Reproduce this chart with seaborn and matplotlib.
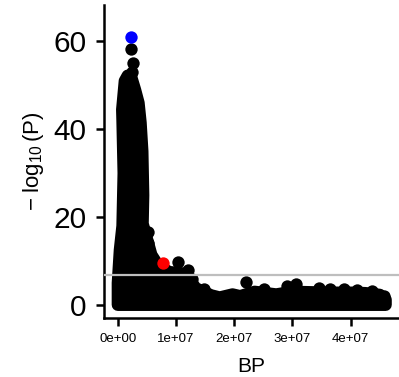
import numpy as np
import matplotlib
matplotlib.use("Agg")
import matplotlib.pyplot as plt
import seaborn as sns

# --- Daten ---
# Umriss der dichten Punktwolke (Punktzentren), von links unten nach rechts unten
cloud_bp = [0.0, 0.0, 0.35e6, 0.8e6, 1.0e6, 0.8e6, 0.75e6, 1.2e6, 1.7e6, 2.2e6,
            2.95e6, 3.55e6, 3.9e6, 4.2e6, 4.35e6, 4.25e6, 5.0e6, 5.75e6, 6.9e6,
            8.8e6, 1.1e7, 1.24e7, 1.34e7, 1.6e7, 1.75e7, 1.97e7, 2.1e7, 2.35e7,
            2.72e7, 3.0e7, 3.32e7, 3.56e7, 3.77e7, 4.0e7, 4.25e7, 4.5e7, 4.6e7, 4.6e7]
cloud_p = [0.05, 5.0, 12.5, 18.0, 30.0, 42.0, 44.5, 51.0, 52.2, 52.3,
           49.0, 46.0, 41.5, 35.0, 25.0, 18.5, 15.0, 11.4, 9.0,
           7.5, 7.2, 5.5, 3.8, 2.2, 1.7, 2.4, 2.0, 3.0,
           2.4, 3.0, 2.9, 2.8, 2.8, 2.8, 2.7, 2.3, 1.2, 0.05]

# einzelne SNPs am Rand der Wolke
snp_bp = [2.19e6, 2.58e6, 2.41e6, 5.25e6, 5.25e6, 1.03e7, 1.2e7, 1.27e7, 1.48e7,
          2.2e7, 2.51e7, 2.91e7, 3.06e7, 3.45e7, 3.65e7, 3.88e7, 4.11e7, 4.37e7, 4.57e7]
snp_p = [58.2, 55.1, 53.1, 16.6, 14.1, 9.9, 8.0, 5.9, 3.7,
         5.2, 3.7, 4.3, 4.7, 3.95, 3.7, 3.55, 3.4, 3.2, 2.05]

lead_bp = [2.19e6]   # blau
lead_p = [61.1]
second_bp = [7.78e6]  # rot
second_p = [9.6]

threshold = 6.85

x_ticks = [0, 1e7, 2e7, 3e7, 4e7]
x_labels = ["0e+00", "1e+07", "2e+07", "3e+07", "4e+07"]
y_ticks = [0, 20, 40, 60]

# --- Stil ---
sns.set_style("ticks")
plt.rcParams["font.family"] = ["Liberation Sans", "DejaVu Sans"]
plt.rcParams["mathtext.fontset"] = "custom"
plt.rcParams["mathtext.rm"] = "Liberation Sans"
plt.rcParams["mathtext.it"] = "Liberation Sans:italic"
plt.rcParams["text.color"] = "black"
plt.rcParams["axes.labelcolor"] = "black"
plt.rcParams["xtick.color"] = "black"
plt.rcParams["ytick.color"] = "black"

fig = plt.figure(figsize=(3.99, 3.77), dpi=100)
ax = fig.add_axes([104 / 399, 1 - 318 / 377, (399 - 104) / 399, (318 - 5) / 377])

dot = 8.9  # Punktdurchmesser in pt

# dichte Wolke: Polygon der Zentren, mit runder Kante = Punktradius
ax.fill(cloud_bp, cloud_p, facecolor="black", edgecolor="black",
        linewidth=dot, joinstyle="round", zorder=1)
sns.scatterplot(x=snp_bp, y=snp_p, color="black", s=dot ** 2, linewidth=0, ax=ax, zorder=2)

ax.axhline(threshold, color="#bebebe", linewidth=1.6, zorder=3)

sns.scatterplot(x=second_bp, y=second_p, color="#ff0000", s=dot ** 2, linewidth=0, ax=ax, zorder=4)
sns.scatterplot(x=lead_bp, y=lead_p, color="#0000ff", s=dot ** 2, linewidth=0, ax=ax, zorder=4)

ax.set_xlim(-2.38e6, 4.83e7)
ax.set_ylim(-2.96, 68.3)

ax.set_xticks(x_ticks)
ax.set_xticklabels(x_labels, fontsize=9.5, color="black")
ax.set_yticks(y_ticks)
ax.set_yticklabels([str(v) for v in y_ticks], fontsize=21.5, color="black")

ax.tick_params(axis="both", direction="out", length=5.8, width=1.8, color="black")
ax.tick_params(axis="y", pad=7)
ax.tick_params(axis="x", pad=5)

sns.despine(ax=ax)
for side in ["left", "bottom"]:
    ax.spines[side].set_linewidth(1.8)
    ax.spines[side].set_color("black")

ax.set_xlabel("BP", fontsize=15, labelpad=8.5, color="black")
ax.set_ylabel(r"$-\;\log_{10}(\mathrm{P})$", fontsize=16, labelpad=5, color="black")

fig.savefig("out.png", dpi=100)
